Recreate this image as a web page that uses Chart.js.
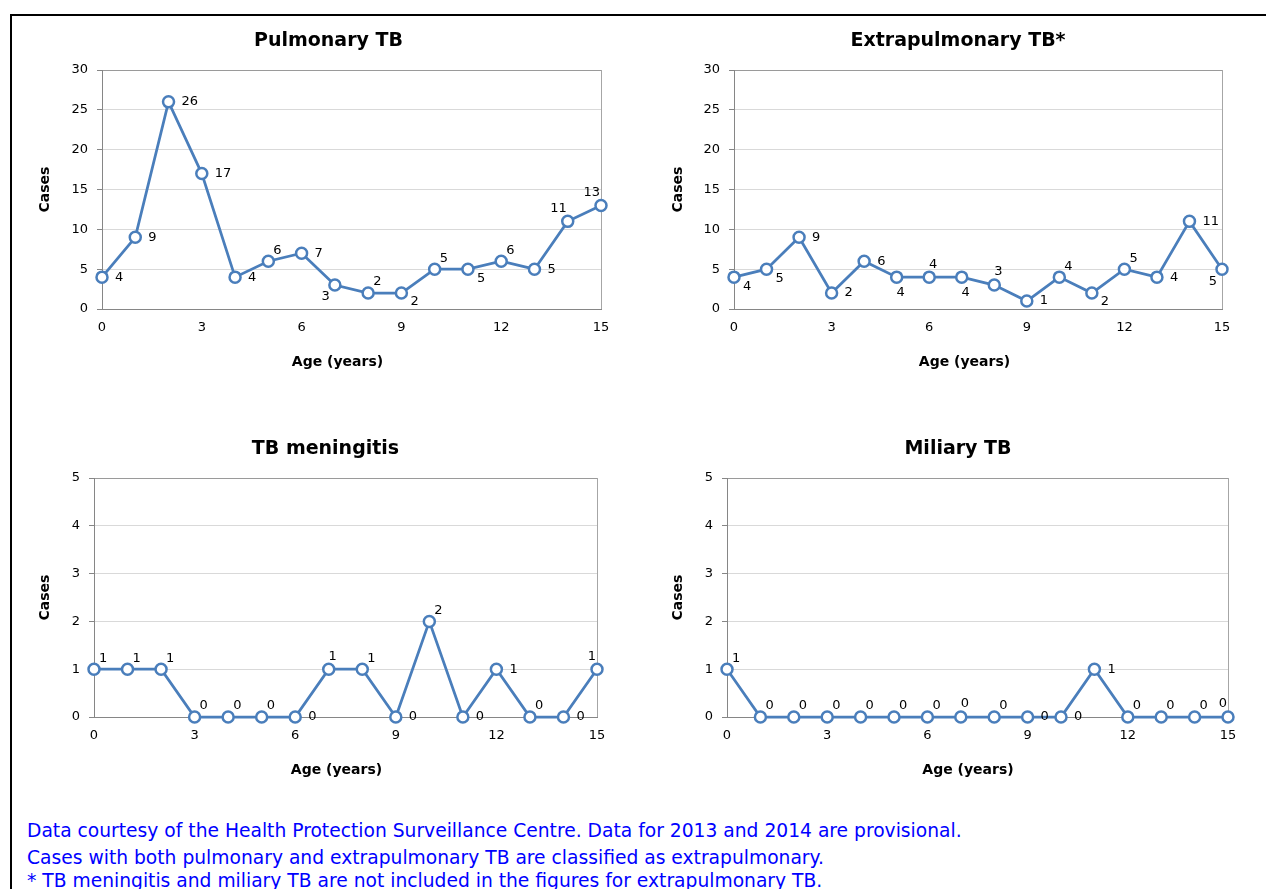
<!DOCTYPE html>
<html><head><meta charset="utf-8">
<script src="https://cdn.jsdelivr.net/npm/chart.js@4"></script>
<style>
html,body{margin:0;padding:0;background:#fff;width:1266px;height:889px;overflow:hidden;position:relative;font-family:"DejaVu Sans",sans-serif}
#frame{position:absolute;left:10px;top:14px;width:1300px;height:1000px;border:2px solid #000;box-sizing:border-box}
canvas{position:absolute}
.note{position:absolute;left:27px;color:#0000ff;font-size:18.7px;white-space:nowrap;line-height:22px}
</style></head><body>
<div id="frame"></div>
<canvas id="c1" width="617" height="360" style="left:20px;top:20px"></canvas>
<canvas id="c2" width="610" height="360" style="left:653px;top:20px"></canvas>
<canvas id="c3" width="611" height="360" style="left:20px;top:428px"></canvas>
<canvas id="c4" width="610" height="360" style="left:653px;top:428px"></canvas>
<div class="note" style="top:820px">Data courtesy of the Health Protection Surveillance Centre. Data for 2013 and 2014 are provisional.</div>
<div class="note" style="top:847px">Cases with both pulmonary and extrapulmonary TB are classified as extrapulmonary.</div>
<div class="note" style="top:870px">* TB meningitis and miliary TB are not included in the figures for extrapulmonary TB.</div>
<script>
// ---- data ----
const ages = [0,1,2,3,4,5,6,7,8,9,10,11,12,13,14,15];
const pulmonary = [4,9,26,17,4,6,7,3,2,2,5,5,6,5,11,13];
const extrapulmonary = [4,5,9,2,6,4,4,4,3,1,4,2,5,4,11,5];
const meningitis = [1,1,1,0,0,0,0,1,1,0,2,0,1,0,0,1];
const miliary = [1,0,0,0,0,0,0,0,0,0,0,1,0,0,0,0];
const titles = ["Pulmonary TB","Extrapulmonary TB*","TB meningitis","Miliary TB"];
const xAxisTitle = "Age (years)";
const yAxisTitle = "Cases";

// ---- label placement codes (style only) ----
const pulmonaryLabelPos = ['r','r','r','r','r','ar','r','bl','ar','br','ar','br','ar','r','al','al'];
const extraLabelPos = ['br','br','r','r','r','b','a','b','a','r','ar','br','ar','r','r','bl'];
const meningLabelPos = ['ar','ar','ar','ar','ar','ar','r','a','ar','r','ar','r','r','ar','r','al'];
const miliaryLabelPos = ['ar','ar','ar','ar','ar','ar','ar','a','ar','r','r','r','ar','ar','ar','al'];
const placeMap = {
  r:{align:'left',dx:13,dy:0},
  ar:{align:'left',dx:5,dy:-11},
  br:{align:'left',dx:9,dy:9},
  bl:{align:'right',dx:-5,dy:12},
  al:{align:'right',dx:-1,dy:-13},
  a:{align:'center',dx:4,dy:-13},
  b:{align:'center',dx:4,dy:15}
};

Chart.defaults.font.family = '"DejaVu Sans", sans-serif';
Chart.defaults.color = '#000';

const labelPlugin = {
  id:'pointLabels',
  afterDatasetsDraw(chart, args, opts){
    const ctx = chart.ctx;
    const meta = chart.getDatasetMeta(0);
    const ds = chart.data.datasets[0];
    ctx.save();
    ctx.font = '13px "DejaVu Sans", sans-serif';
    ctx.fillStyle = '#000';
    ctx.textBaseline = 'middle';
    meta.data.forEach((pt,i)=>{
      const p = placeMap[opts.pos[i]] || placeMap.r;
      ctx.textAlign = p.align;
      ctx.fillText(String(ds.data[i].y), pt.x + p.dx, pt.y + p.dy);
    });
    ctx.restore();
  }
};
const textPlugin = {
  id:'extraTitles',
  afterDraw(chart, args, opts){
    const ca = chart.chartArea, ctx = chart.ctx;
    ctx.save();
    ctx.fillStyle = '#000';
    ctx.textAlign = 'center';
    ctx.textBaseline = 'middle';
    ctx.font = 'bold 19px "DejaVu Sans", sans-serif';
    ctx.fillText(opts.title, chart.width/2, opts.titleY);
    ctx.font = 'bold 14px "DejaVu Sans", sans-serif';
    ctx.fillText(opts.xText, (ca.left+ca.right)/2 + opts.xdx, ca.bottom + opts.xdy);
    ctx.restore();
  }
};

function makeChart(id, title, values, yMax, yStep, yWidth, padRight, labelPos, xdx){
  const pts = ages.map((a,i)=>({x:a,y:values[i]}));
  return new Chart(document.getElementById(id), {
    type:'line',
    data:{datasets:[{
      data:pts,
      borderColor:'#4a7ebb',
      borderWidth:2.75,
      pointRadius:5.5,
      pointBorderWidth:2.5,
      pointBackgroundColor:'#fff',
      pointBorderColor:'#4a7ebb',
      tension:0,
      clip:false
    }]},
    plugins:[labelPlugin, textPlugin],
    options:{
      responsive:false,
      animation:false,
      layout:{padding:{left:0,right:padRight,top:50,bottom:0}},
      plugins:{
        legend:{display:false},
        tooltip:{enabled:false},
        title:{display:false},
        pointLabels:{pos:labelPos},
        extraTitles:{title:title,titleY:21,xText:xAxisTitle,xdx:xdx,xdy:53}
      },
      scales:{
        x:{
          type:'linear',min:0,max:15,
          afterFit(s){s.height=71;},
          ticks:{stepSize:3,padding:11,font:{size:13},color:'#000'},
          grid:{drawTicks:false,color:(c)=>c.tick && c.tick.value===15 ? '#a6a6a6' : 'rgba(0,0,0,0)',lineWidth:1},
          border:{display:true,color:'#868686',width:1}
        },
        y:{
          min:0,max:yMax,
          afterFit(s){s.width=yWidth;},
          ticks:{stepSize:yStep,padding:9,font:{size:13},color:'#000'},
          grid:{drawTicks:true,tickLength:5,tickColor:'#868686',color:(c)=>c.tick && c.tick.value===yMax ? '#9a9a9a' : '#d9d9d9',lineWidth:1},
          border:{display:true,color:'#868686',width:1},
          title:{display:true,text:yAxisTitle,color:'#000',font:{size:14,weight:'bold'},padding:{top:16.6,bottom:0}}
        }
      }
    }
  });
}

makeChart('c1', titles[0], pulmonary, 30, 5, 82, 36, pulmonaryLabelPos, -14);
makeChart('c2', titles[1], extrapulmonary, 30, 5, 81, 41, extraLabelPos, -13.5);
makeChart('c3', titles[2], meningitis, 5, 1, 74, 34, meningLabelPos, -9);
makeChart('c4', titles[3], miliary, 5, 1, 74, 35, miliaryLabelPos, -9.5);
</script>
</body></html>
